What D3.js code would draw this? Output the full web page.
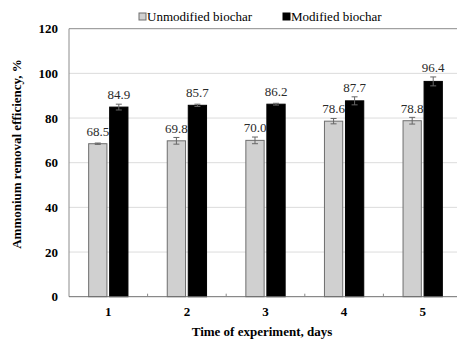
<!DOCTYPE html>
<html>
<head>
<meta charset="utf-8">
<script src="https://cdn.jsdelivr.net/npm/d3@7"></script>
<style>
  body { margin: 0; background: #fff; }
  svg { display: block; font-family: "Liberation Serif", "Times New Roman", serif; }
</style>
</head>
<body>
<svg width="457" height="341"></svg>
<script>
// chart data
let days = ["1", "2", "3", "4", "5"];
let series = ["Unmodified biochar", "Modified biochar"];
let unmodified = [68.5, 69.8, 70.0, 78.6, 78.8];
let unmodifiedErr = [0.3, 1.5, 1.5, 1.2, 1.5];
let modified = [84.9, 85.7, 86.2, 87.7, 96.4];
let modifiedErr = [1.3, 0.5, 0.4, 1.8, 2.0];
let yTicks = [0, 20, 40, 60, 80, 100, 120];

let svg = d3.select("svg");
let mLeft = 69, mTop = 28.7, mRight = 462, mBottom = 296.7;

let x = d3.scaleBand().domain(days).range([mLeft, mRight])
    .paddingInner(0.5).paddingOuter(0.25);
let xs = d3.scaleBand().domain(series).range([0, x.bandwidth()]).paddingInner(0.13);
let y = d3.scaleLinear().domain([0, 120]).range([mBottom, mTop]);

let fills = { "Unmodified biochar": "#d0d0d0", "Modified biochar": "#000" };

// gridlines
svg.append("g").selectAll("line").data(yTicks.filter(d => d > 0)).join("line")
    .attr("x1", mLeft).attr("x2", mRight)
    .attr("y1", d => y(d)).attr("y2", d => y(d))
    .attr("stroke", d => d === 120 ? "#8c8c8c" : "#dcdcdc").attr("stroke-width", 1);

let rows = [];
days.forEach(function (d, i) {
    rows.push({ day: d, s: series[0], v: unmodified[i], e: unmodifiedErr[i] });
    rows.push({ day: d, s: series[1], v: modified[i], e: modifiedErr[i] });
});

let groups = svg.append("g").selectAll("g").data(rows).join("g")
    .attr("transform", d => "translate(" + (x(d.day) + xs(d.s)) + ",0)");

groups.append("rect")
    .attr("x", 0).attr("width", xs.bandwidth())
    .attr("y", d => y(d.v)).attr("height", d => mBottom - y(d.v))
    .attr("fill", d => fills[d.s])
    .attr("stroke", d => d.s === series[0] ? "#6e6e6e" : "#000")
    .attr("stroke-width", 1);

// error bars
let cx = xs.bandwidth() / 2;
groups.append("line")
    .attr("x1", cx).attr("x2", cx)
    .attr("y1", d => y(d.v - d.e)).attr("y2", d => y(d.v + d.e))
    .attr("stroke", "#666");
groups.append("line")
    .attr("x1", cx - 3).attr("x2", cx + 3)
    .attr("y1", d => y(d.v + d.e)).attr("y2", d => y(d.v + d.e))
    .attr("stroke", "#666");
groups.append("line")
    .attr("x1", cx - 3).attr("x2", cx + 3)
    .attr("y1", d => y(d.v - d.e)).attr("y2", d => y(d.v - d.e))
    .attr("stroke", "#666");

groups.append("text")
    .attr("x", cx).attr("y", d => Math.min(y(d.v) - 8, y(d.v + d.e) - 4.5))
    .attr("text-anchor", "middle")
    .attr("font-size", 13).attr("fill", "#2a2a2a")
    .text(d => d.v.toFixed(1));

// axes lines
svg.append("line").attr("x1", mLeft).attr("x2", mLeft).attr("y1", mTop).attr("y2", mBottom)
    .attr("stroke", "#8c8c8c");
svg.append("line").attr("x1", mLeft).attr("x2", mRight).attr("y1", mBottom).attr("y2", mBottom)
    .attr("stroke", "#6e6e6e");

// small ticks between categories
svg.append("g").selectAll("line").data(days.slice(1)).join("line")
    .attr("x1", d => x(d) - x.step() * 0.25).attr("x2", d => x(d) - x.step() * 0.25)
    .attr("y1", mBottom).attr("y2", mBottom - 3)
    .attr("stroke", "#888");

// tick labels
svg.append("g").selectAll("text").data(yTicks).join("text")
    .attr("x", 58).attr("y", d => y(d) + 4.5)
    .attr("text-anchor", "end").attr("font-size", 13).attr("font-weight", "bold")
    .text(d => d);

svg.append("g").selectAll("text").data(days).join("text")
    .attr("x", d => x(d) + x.bandwidth() / 2).attr("y", 316)
    .attr("text-anchor", "middle").attr("font-size", 13).attr("font-weight", "bold")
    .text(d => d);

// axis titles
svg.append("text")
    .attr("x", 262).attr("y", 336)
    .attr("text-anchor", "middle").attr("font-size", 13).attr("font-weight", "bold")
    .text("Time of experiment, days");

svg.append("text")
    .attr("transform", "translate(21,154) rotate(-90)")
    .attr("text-anchor", "middle").attr("font-size", 13).attr("font-weight", "bold")
    .text("Ammonium removal efficiency, %");

// legend
let legendX = [139, 283];
let legend = svg.append("g").selectAll("g").data(series).join("g")
    .attr("transform", (d, i) => "translate(" + legendX[i] + ",17)");
legend.append("rect")
    .attr("x", 0).attr("y", -4).attr("width", 7).attr("height", 7)
    .attr("fill", d => fills[d])
    .attr("stroke", d => d === series[0] ? "#6e6e6e" : "#000");
legend.append("text")
    .attr("x", 8).attr("y", 4)
    .attr("font-size", 13)
    .text(d => d);
</script>
</body>
</html>
